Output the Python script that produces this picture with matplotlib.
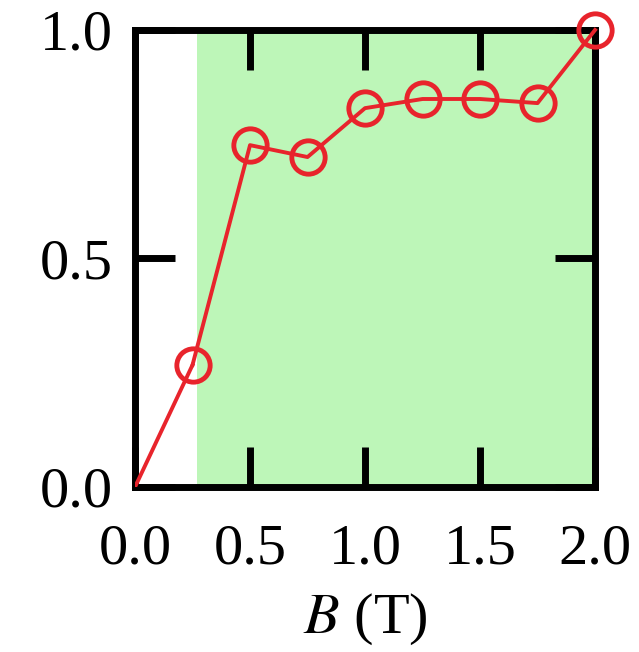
import matplotlib.pyplot as plt
import numpy as np

plt.rcParams['font.family'] = ['Liberation Serif', 'DejaVu Serif']
plt.rcParams['mathtext.fontset'] = 'stix'

# field values and normalized response
B = [0.0, 0.25, 0.5, 0.75, 1.0, 1.25, 1.5, 1.75, 2.0]
ratio = [0.0, 0.267, 0.748, 0.722, 0.829, 0.849, 0.849, 0.840, 1.0]
shade_from = 0.27
xticks = [0.0, 0.5, 1.0, 1.5, 2.0]
yticks = [0.0, 0.5, 1.0]

fig = plt.figure(figsize=(6.39, 6.52), dpi=100)
ax = fig.add_axes([0.2113, 0.2531, 0.7199, 0.7009])

ax.axvspan(shade_from, 2.0, color='#bdf6b8', lw=0, zorder=0)

red = '#e8242c'
ax.plot(B[:2], ratio[:2], '-', color=red, lw=2.8, zorder=3)
ax.plot(B[1:], ratio[1:], '-o', color=red, lw=2.8, ms=24, mfc='none',
        mec=red, mew=3.5, clip_on=False, zorder=4)

ax.set_xlim(0, 2.0)
ax.set_ylim(0, 1.0)
ax.set_xticks(xticks)
ax.set_yticks(yticks)
ax.set_xticklabels(['%.1f' % v for v in xticks])
ax.set_yticklabels(['%.1f' % v for v in yticks])
for s in ax.spines.values():
    s.set_linewidth(5)
ax.tick_params(direction='in', length=29, width=5, top=True, right=True,
               labelsize=42)
ax.tick_params(axis='x', pad=26)
ax.tick_params(axis='y', pad=16)
ax.set_xlabel(r'$B$ (T)', fontsize=42, labelpad=12)

fig.savefig('out.png', dpi=100)
